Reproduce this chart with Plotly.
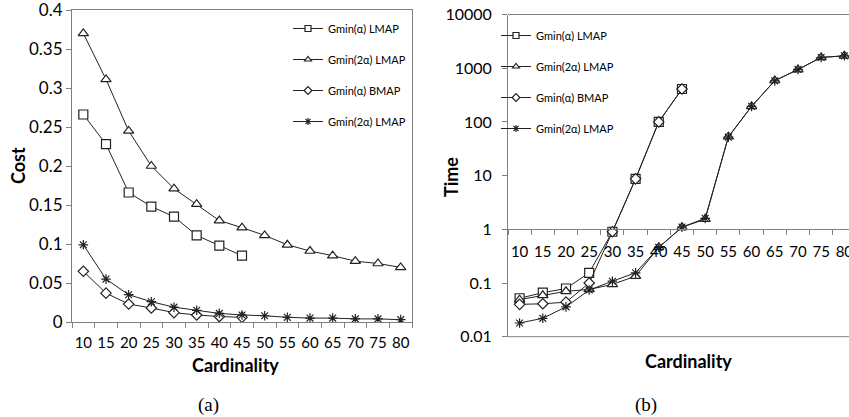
import plotly.graph_objects as go

cardinality = ["10", "15", "20", "25", "30", "35", "40", "45", "50", "55", "60", "65", "70", "75", "80"]

# (a) cost
cost_gmin_a_lmap = [0.266, 0.228, 0.166, 0.148, 0.135, 0.111, 0.098, 0.085]
cost_gmin_2a_lmap = [0.37, 0.311, 0.245, 0.2, 0.171, 0.151, 0.13, 0.121, 0.111, 0.099, 0.091, 0.085, 0.078, 0.075, 0.07]
cost_gmin_a_bmap = [0.065, 0.037, 0.023, 0.018, 0.012, 0.009, 0.007, 0.006]
cost_gmin_2a_lmap_star = [0.099, 0.055, 0.035, 0.026, 0.019, 0.015, 0.011, 0.009, 0.008, 0.006, 0.005, 0.005, 0.004, 0.004, 0.003]
cost_ticks = [0, 0.05, 0.1, 0.15, 0.2, 0.25, 0.3, 0.35, 0.4]
cost_ticktext = ["0", "0.05", "0.1", "0.15", "0.2", "0.25", "0.3", "0.35", "0.4"]

# (b) time
time_gmin_a_lmap = [0.052, 0.066, 0.079, 0.155, 0.9, 8.7, 100, 410]
time_gmin_2a_lmap = [0.049, 0.059, 0.07, 0.076, 0.094, 0.134, 0.46, 1.09, 1.54, 53, 194, 590, 940, 1590, 1700]
time_gmin_a_bmap = [0.04, 0.041, 0.044, 0.1, 0.9, 8.7, 100, 410]
time_gmin_2a_lmap_star = [0.018, 0.022, 0.036, 0.074, 0.108, 0.155, 0.46, 1.1, 1.6, 52, 195, 580, 950, 1580, 1700]
time_ticks = [0.01, 0.1, 1, 10, 100, 1000, 10000]
time_ticktext = ["0.01", "0.1", "1", "10", "100", "1000", "10000"]

series_names = ["Gmin(α) LMAP", "Gmin(2α) LMAP", "Gmin(α) BMAP", "Gmin(2α) LMAP"]
symbols = ["square", "triangle-up", "diamond", "asterisk-open"]
sizes = [9, 9, 8, 8]

W, H = 849, 417
FONT = "Lato, 'Open Sans', sans-serif"
AX = "#808080"
INK = "#222"


def px_x(p):
    return p / W


def px_y(p):
    return (H - p) / H


def marker(i, size):
    # open symbols take their stroke from marker.color
    fill = INK if symbols[i].endswith("-open") else "white"
    return dict(symbol=symbols[i], size=size, color=fill, line=dict(color=INK, width=1.2))


fig = go.Figure()

cost_series = [cost_gmin_a_lmap, cost_gmin_2a_lmap, cost_gmin_a_bmap, cost_gmin_2a_lmap_star]
time_series = [time_gmin_a_lmap, time_gmin_2a_lmap, time_gmin_a_bmap, time_gmin_2a_lmap_star]

for panel, series, xa, ya, leg in [("a", cost_series, "x", "y", "legend"),
                                   ("b", time_series, "x2", "y2", "legend2")]:
    for i, (name, ys) in enumerate(zip(series_names, series)):
        fig.add_trace(go.Scatter(
            x=cardinality[:len(ys)], y=ys, name=name, mode="lines+markers",
            line=dict(color=INK, width=1), marker=marker(i, sizes[i]),
            xaxis=xa, yaxis=ya, showlegend=False))
        # legend-only twin with the small symbols of the original legend
        fig.add_trace(go.Scatter(
            x=[None], y=[None], name=name, mode="lines+markers",
            line=dict(color=INK, width=1), marker=marker(i, 6),
            xaxis=xa, yaxis=ya, legend=leg, legendgroup=panel + str(i)))

x_font = dict(family=FONT, size=15, color="black")
a_y0, a_y1 = px_y(322), px_y(10)
b_y0, b_y1 = px_y(336.7), px_y(14.5)

common_x = dict(type="category", categoryorder="array", categoryarray=cardinality,
                showline=True, linecolor=AX, ticks="outside", tickson="boundaries",
                ticklen=5, tickcolor=AX, tickfont=x_font, tickangle=0,
                showgrid=False, zeroline=False, automargin=False)
common_y = dict(showline=True, linecolor=AX, ticks="outside", ticklen=5, tickcolor=AX,
                showgrid=False, zeroline=False, automargin=False, ticklabeloverflow="allow")

fig.update_layout(
    width=W, height=H,
    margin=dict(l=0, r=0, t=0, b=0),
    paper_bgcolor="white", plot_bgcolor="white",
    font=dict(family=FONT, color="black"),
    xaxis=dict(common_x, domain=[px_x(72), px_x(412)], range=[-0.5, 14.5], mirror=True,
               anchor="y", ticklabelstandoff=7),
    yaxis=dict(common_y, domain=[a_y0, a_y1], range=[0, 0.4], tickvals=cost_ticks,
               ticktext=cost_ticktext, mirror=True, anchor="x",
               tickfont=dict(family=FONT, size=17, color="black")),
    xaxis2=dict(common_x, domain=[px_x(508), 1.0], range=[-0.5, 14.2],
                anchor="free", position=b_y0 + (b_y1 - b_y0) * 2 / 6, ticklabelstandoff=9),
    yaxis2=dict(common_y, domain=[b_y0, b_y1], type="log", range=[-2, 4],
                tickvals=time_ticks, ticktext=time_ticktext, anchor="x2",
                ticklabelstandoff=7, tickfont=dict(family=FONT, size=16, color="black")),
    legend=dict(x=px_x(288), y=px_y(14), xanchor="left", yanchor="top",
                bgcolor="rgba(0,0,0,0)", font=dict(family=FONT, size=11),
                tracegroupgap=12),
    legend2=dict(x=px_x(496), y=px_y(21), xanchor="left", yanchor="top",
                 bgcolor="rgba(0,0,0,0)", font=dict(family=FONT, size=11),
                 tracegroupgap=12),
    shapes=[
        dict(type="line", xref="x2 domain", yref="y2 domain", x0=0, x1=1.05, y0=1, y1=1,
             line=dict(color=AX, width=1)),
        dict(type="line", xref="x2 domain", yref="y2 domain", x0=0, x1=1.05, y0=0, y1=0,
             line=dict(color=AX, width=1)),
    ],
)

labels = [("<b>Cost</b>", 18, 166, -90, FONT, 18),
          ("<b>Cardinality</b>", 236, 365, 0, FONT, 18),
          ("<b>Time</b>", 451, 177, -90, FONT, 18),
          ("<b>Cardinality</b>", 688, 361, 0, FONT, 18),
          ("(a)", 208, 405, 0, "Liberation Serif, serif", 19),
          ("(b)", 646, 405, 0, "Liberation Serif, serif", 19)]
for text, lx, ly, ang, fam, size in labels:
    fig.add_annotation(text=text, x=px_x(lx), y=px_y(ly), xref="paper", yref="paper",
                       xanchor="center", yanchor="middle", textangle=ang, showarrow=False,
                       font=dict(family=fam, size=size))

fig.write_html("out.html", config={"displayModeBar": False},
               post_script="document.body.style.margin='0px';")
